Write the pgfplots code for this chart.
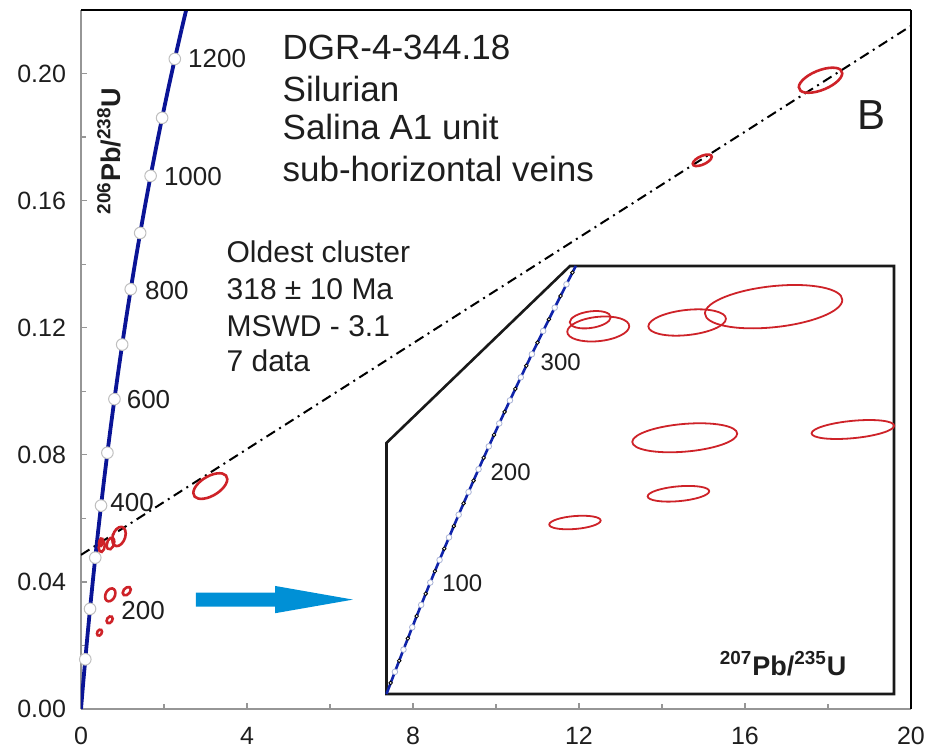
\documentclass[border=0pt]{standalone}
\usepackage{fontspec}
\setmainfont{Liberation Sans}
\usepackage{pgfplots}
\usepackage{pgfplotstable}
\pgfplotsset{compat=1.18}

\definecolor{concblue}{RGB}{10,20,150}
\definecolor{concblue2}{RGB}{15,35,170}
\definecolor{ellred}{RGB}{206,34,40}
\definecolor{arrowblue}{RGB}{0,144,214}
\definecolor{txt}{RGB}{30,30,30}
\definecolor{axgray}{RGB}{150,150,150}
\definecolor{mkedge}{RGB}{170,180,215}

% error ellipse drawn from conjugate semi-diameters a=(rx,sy), b=(0,ry) in data units
\pgfdeclareplotmark{errellipse}{%
  \pgfpathellipse{\pgfpointorigin}%
    {\pgfplotspointaxisdirectionxy{\ellrx}{\ellsy}}%
    {\pgfplotspointaxisdirectionxy{0}{\ellry}}%
  \pgfusepathqstroke}

\pgfplotsset{
  errell/.style={only marks, scatter, mark=errellipse, color=ellred,
    scatter/@pre marker code/.code={}, scatter/@post marker code/.code={},
    visualization depends on={\thisrow{rx}\as\ellrx},
    visualization depends on={\thisrow{sy}\as\ellsy},
    visualization depends on={\thisrow{ry}\as\ellry}},
}

% Wetherill concordia, 50 Ma steps (t in Ma)
\pgfplotstableread{
t     x         y
0     0         0
50    0.050475  0.007786
100   0.103498  0.015633
150   0.159198  0.023542
200   0.217708  0.031511
250   0.279171  0.039543
300   0.343738  0.047637
350   0.411563  0.055795
400   0.482811  0.064016
450   0.557657  0.072300
500   0.636280  0.080650
550   0.718871  0.089064
600   0.805631  0.097544
650   0.896770  0.106090
700   0.992510  0.114702
750   1.093082  0.123382
800   1.198730  0.132129
850   1.309711  0.140944
900   1.426295  0.149828
950   1.548761  0.158781
1000  1.677410  0.167804
1050  1.812553  0.176897
1100  1.954515  0.186061
1150  2.103646  0.195296
1200  2.260302  0.204603
1250  2.424866  0.213982
}\concordia

% concordia in 10 Ma steps for the enlarged view
\pgfplotstableread{
t    x         y
0    0         0
10   0.009897  0.001553
20   0.019892  0.003107
30   0.029986  0.004665
40   0.040180  0.006224
50   0.050475  0.007786
60   0.060872  0.009351
70   0.071371  0.010918
80   0.081975  0.012487
90   0.092683  0.014059
100  0.103498  0.015633
110  0.114419  0.017210
120  0.125449  0.018789
130  0.136588  0.020371
140  0.147837  0.021955
150  0.159198  0.023542
160  0.170670  0.025131
170  0.182256  0.026722
180  0.193957  0.028316
190  0.205774  0.029912
200  0.217708  0.031511
210  0.229759  0.033113
220  0.241930  0.034717
230  0.254222  0.036323
240  0.266635  0.037932
250  0.279171  0.039543
260  0.291832  0.041157
270  0.304617  0.042773
280  0.317529  0.044392
290  0.330569  0.046014
300  0.343738  0.047637
310  0.357037  0.049264
320  0.370468  0.050893
330  0.384031  0.052524
340  0.397729  0.054158
350  0.411563  0.055795
360  0.425533  0.057434
370  0.439642  0.059076
}\concfine

% oldest cluster analyses near the concordia
\pgfplotstableread{
x       y        rx      sy       ry
0.4818  0.05247  0.0485  0.00035  0.00117
0.5007  0.05117  0.0733  0.00039  0.00171
0.7109  0.05208  0.0917  0.00053  0.00177
0.9154  0.05430  0.1624  0.00094  0.00289
0.7052  0.03592  0.1241  0.00058  0.00195
1.1028  0.03708  0.0976  0.00053  0.00122
0.6903  0.02807  0.0728  0.00036  0.00104
0.4456  0.02404  0.0608  0.00028  0.00091
}\clusterdata

% common-Pb rich analyses along the mixing line
\pgfplotstableread{
x       y        rx      sy       ry
3.116   0.07017  0.4096  0.00217  0.00340
14.97   0.1727   0.229   0.0011   0.00145
17.82   0.1979   0.523   0.0022   0.00328
}\outerdata

\begin{document}
\begin{tikzpicture}
\begin{axis}[
  name=main,
  at={(0,0)}, anchor=south west,
  scale only axis, width=415pt, height=349.5pt,
  xmin=0, xmax=20, ymin=0, ymax=0.22,
  axis x line*=bottom, axis y line*=left,
  axis line style={axgray, line width=0.9pt, -},
  xtick={0,4,8,12,16,20},
  ytick={0,0.04,0.08,0.12,0.16,0.20},
  minor x tick num=1, minor y tick num=1,
  tick align=inside,
  major tick length=3pt, minor tick length=2.5pt,
  tick style={axgray, line width=0.6pt},
  scaled y ticks=false,
  /pgf/number format/assume math mode=true,
  yticklabel style={/pgf/number format/fixed,
    /pgf/number format/fixed zerofill,
    /pgf/number format/precision=2, xshift=-4pt,
    font=\fontsize{12.5}{14}\selectfont},
  xticklabel style={yshift=-5.5pt, font=\fontsize{12.5}{14}\selectfont},
  tick label style={text=txt},
  clip mode=individual,
]
% mixing line
\addplot[black, line width=1pt, dash pattern=on 5pt off 2.5pt on 1pt off 2.5pt]
  coordinates {(0,0.0485) (20,0.2150)};
% concordia
\addplot[concblue, line width=1.9pt] table[x=x,y=y] {\concordia};
\addplot[concblue, line width=1.9pt] coordinates {(2.424866,0.213982) (2.534170,0.220000)};
\addplot[only marks, mark=*, mark size=2.9pt, mark repeat=2, mark phase=3,
  mark options={fill=white, draw=gray!50, line width=0.5pt}]
  table[x=x,y=y] {\concordia};
% analyses
\addplot[errell, line width=1.3pt] table {\clusterdata};
\addplot[errell, line width=1.3pt] table {\outerdata};

% age labels
\begin{scope}[every node/.style={anchor=base west, inner sep=0pt, text=txt,
    font=\fontsize{13}{15}\selectfont}]
\node[xshift=15.5pt, yshift=-5.5pt] at (axis cs:0.217708,0.031511) {200};
\node[xshift=4.5pt, yshift=-3pt] at (axis cs:0.482811,0.064016) {400};
\node[xshift=6pt, yshift=-4.5pt] at (axis cs:0.805631,0.097544) {600};
\node[xshift=7pt, yshift=-5pt] at (axis cs:1.198730,0.132129) {800};
\node[xshift=6.5pt, yshift=-5pt] at (axis cs:1.677410,0.167804) {1000};
\node[xshift=6.5pt, yshift=-4.5pt] at (axis cs:2.260302,0.204603) {1200};
\end{scope}

% y axis label
\node[rotate=90, anchor=base, inner sep=0pt, text=txt,
  font=\bfseries\fontsize{13.5}{15}\selectfont]
  at (axis cs:0.957,0.1756) {\textsuperscript{206}Pb/\textsuperscript{238}U};

% sample description
\begin{scope}[every node/.style={anchor=base west, inner sep=0pt, text=txt,
    font=\fontsize{17.5}{20}\selectfont}]
\node at (axis cs:4.85,0.2044) {DGR-4-344.18};
\node at (axis cs:4.85,0.1913) {Silurian};
\node at (axis cs:4.85,0.1792) {Salina A1 unit};
\node at (axis cs:4.85,0.1661) {sub-horizontal veins};
\end{scope}
\begin{scope}[every node/.style={anchor=base west, inner sep=0pt, text=txt,
    font=\fontsize{15}{18}\selectfont}]
\node at (axis cs:3.5,0.1404) {Oldest cluster};
\node at (axis cs:3.5,0.1288) {318 ± 10 Ma};
\node at (axis cs:3.5,0.1173) {MSWD - 3.1};
\node at (axis cs:3.5,0.1062) {7 data};
\end{scope}
\node[anchor=base west, inner sep=0pt, text=txt, font=\fontsize{21}{24}\selectfont]
  at (axis cs:18.69,0.1824) {B};

% pointer to the enlarged view
\fill[arrowblue] (axis cs:2.771,0.03222) -- (axis cs:4.675,0.03222)
  -- (axis cs:4.675,0.03014) -- (axis cs:6.554,0.03443)
  -- (axis cs:4.675,0.03874) -- (axis cs:4.675,0.03663)
  -- (axis cs:2.771,0.03663) -- cycle;
\end{axis}
\draw[black, line width=1.4pt] (main.north west) -- (main.north east);
\draw[black, line width=0.9pt] (main.north east) -- (main.south east);

% enlarged view of the cluster
\begin{axis}[
  at={(152.75pt,7.5pt)}, anchor=south west,
  scale only axis, width=253.75pt, height=214pt,
  xmin=0, xmax=1.2, ymin=0, ymax=0.06,
  hide axis, clip=false,
]
\draw[line width=1.3pt, draw=black!90, fill=white, line join=miter]
  (axis cs:0,0) -- (axis cs:0,0.0352) -- (axis cs:0.4338,0.06)
  -- (axis cs:1.2,0.06) -- (axis cs:1.2,0) -- cycle;
\addplot[concblue2, line width=1.3pt] table[x=x,y=y] {\concfine};
\addplot[concblue2, line width=1.3pt] coordinates {(0.439642,0.059076) (0.4476,0.06)};
\addplot[only marks, mark=*, mark size=0.9pt, mark repeat=2, mark phase=2,
  mark options={fill=white, draw=none}] table[x=x,y=y] {\concfine};
\addplot[only marks, mark=*, mark size=1.4pt, mark repeat=2, mark phase=3,
  mark options={fill=white, draw=mkedge, line width=0.4pt}]
  table[x=x,y=y] {\concfine};
\addplot[errell, line width=0.9pt] table {\clusterdata};
\begin{scope}[every node/.style={anchor=base west, inner sep=0pt, text=txt,
    font=\fontsize{12}{14}\selectfont}]
\node[xshift=5.8pt, yshift=-4.7pt] at (axis cs:0.103498,0.015633) {100};
\node[xshift=5.8pt, yshift=-5.8pt] at (axis cs:0.217708,0.031511) {200};
\node[xshift=4.2pt, yshift=-8.2pt] at (axis cs:0.343738,0.047637) {300};
\end{scope}
\node[anchor=base, inner sep=0pt, text=txt,
  font=\bfseries\fontsize{13.5}{15}\selectfont]
  at (axis cs:0.938,0.00266) {\textsuperscript{207}Pb/\textsuperscript{235}U};
\end{axis}
\pgfresetboundingbox
\useasboundingbox (-40.5pt,-21pt) rectangle (423.5pt,354.5pt);
\end{tikzpicture}
\end{document}
